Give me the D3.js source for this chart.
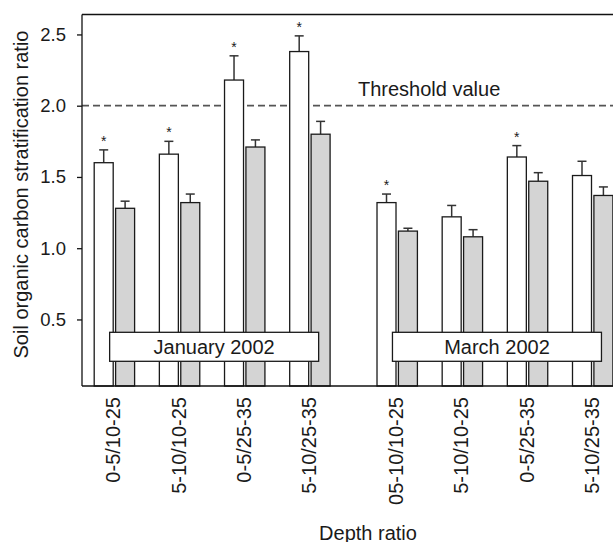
<!DOCTYPE html>
<html>
<head>
<meta charset="utf-8">
<script src="https://cdn.jsdelivr.net/npm/d3@7"></script>
<style>
  html, body { margin: 0; padding: 0; background: #fff; }
  svg { display: block; }
  text { font-family: "Liberation Sans", Arial, sans-serif; fill: #1a1a1a; }
</style>
</head>
<body>
<svg id="chart" width="613" height="542"></svg>
<script>
// ---- data ----
const depthRatios = ["0-5/10-25", "5-10/10-25", "0-5/25-35", "5-10/25-35",
                     "05-10/10-25", "5-10/10-25", "0-5/25-35", "5-10/25-35"];
const monthOfRatio = [0, 0, 0, 0, 1, 1, 1, 1];
const months = ["January 2002", "March 2002"];
const whiteValues = [1.60, 1.66, 2.18, 2.38, 1.32, 1.22, 1.64, 1.51];
const whiteErrors = [0.09, 0.09, 0.17, 0.11, 0.06, 0.08, 0.08, 0.10];
const greyValues  = [1.28, 1.32, 1.71, 1.80, 1.12, 1.08, 1.47, 1.37];
const greyErrors  = [0.05, 0.06, 0.05, 0.09, 0.02, 0.05, 0.06, 0.06];
const significant = [true, true, true, true, true, false, true, false];
const yTicks = [0.5, 1.0, 1.5, 2.0, 2.5];
const thresholdValue = 2.0;
const thresholdLabel = "Threshold value";
const yTitle = "Soil organic carbon stratification ratio";
const xTitle = "Depth ratio";

// ---- layout ----
const plotLeft = 82, plotTop = 14.5, plotBottom = 386, plotRight = 640;
const monthGap = 0.34;   // extra slot space between months
const barW = 19;

const svg = d3.select("#chart");

const slot = (i) => i + monthOfRatio[i] * monthGap;
const x = d3.scaleLinear().domain([0, 7 + monthGap]).range([114.4, 592.7]);
const y = d3.scaleLinear().domain([0.033, 2.64]).range([plotBottom, plotTop]);

// frame top line
svg.append("line")
  .attr("x1", plotLeft).attr("x2", plotRight)
  .attr("y1", plotTop).attr("y2", plotTop)
  .attr("stroke", "#111").attr("stroke-width", 1.3);

// threshold dashed line
svg.append("line")
  .attr("x1", plotLeft).attr("x2", plotRight)
  .attr("y1", y(thresholdValue)).attr("y2", y(thresholdValue))
  .attr("stroke", "#555").attr("stroke-width", 1.8)
  .attr("stroke-dasharray", "7,4");

svg.append("text")
  .attr("x", 358).attr("y", y(thresholdValue) - 10)
  .attr("font-size", 20)
  .text(thresholdLabel);

const idx = d3.range(depthRatios.length);

// error bars (drawn before bars so bars cover line base)
function errBars(values, errors, offset) {
  const g = svg.append("g").attr("stroke", "#333").attr("stroke-width", 1.5);
  g.selectAll("line.v").data(idx).join("line").attr("class", "v")
    .attr("x1", i => x(slot(i)) + offset).attr("x2", i => x(slot(i)) + offset)
    .attr("y1", i => y(values[i])).attr("y2", i => y(values[i] + errors[i]));
  g.selectAll("line.c").data(idx).join("line").attr("class", "c")
    .attr("x1", i => x(slot(i)) + offset - 4.5).attr("x2", i => x(slot(i)) + offset + 4.5)
    .attr("y1", i => y(values[i] + errors[i])).attr("y2", i => y(values[i] + errors[i]));
}
errBars(whiteValues, whiteErrors, -10.7);
errBars(greyValues, greyErrors, 10.7);

// bars
svg.append("g").selectAll("rect").data(idx).join("rect")
  .attr("x", i => x(slot(i)) - 20.2)
  .attr("width", barW)
  .attr("y", i => y(whiteValues[i]))
  .attr("height", i => plotBottom - y(whiteValues[i]))
  .attr("fill", "#fff").attr("stroke", "#1a1a1a").attr("stroke-width", 1.3);

svg.append("g").selectAll("rect").data(idx).join("rect")
  .attr("x", i => x(slot(i)) + 1.2)
  .attr("width", barW)
  .attr("y", i => y(greyValues[i]))
  .attr("height", i => plotBottom - y(greyValues[i]))
  .attr("fill", "#d4d4d4").attr("stroke", "#1a1a1a").attr("stroke-width", 1.3);

// significance stars
svg.append("g").selectAll("text").data(idx.filter(i => significant[i])).join("text")
  .attr("x", i => x(slot(i)) - 10.7)
  .attr("y", i => y(whiteValues[i] + whiteErrors[i]) - 4)
  .attr("text-anchor", "middle")
  .attr("font-size", 14)
  .text("*");

// month label boxes
months.forEach((m, k) => {
  const members = idx.filter(i => monthOfRatio[i] === k);
  const cx = (x(slot(d3.min(members))) + x(slot(d3.max(members)))) / 2 + 2;
  svg.append("rect")
    .attr("x", cx - 104.5).attr("width", 209)
    .attr("y", 332.3).attr("height", 29)
    .attr("fill", "#fff").attr("stroke", "#1a1a1a").attr("stroke-width", 1.3);
  svg.append("text")
    .attr("x", cx).attr("y", 354)
    .attr("text-anchor", "middle").attr("font-size", 20)
    .text(m);
});

// y axis
const yAxis = d3.axisLeft(y).tickValues(yTicks).tickSize(5).tickPadding(11)
  .tickFormat(d3.format(".1f"));
const yg = svg.append("g").attr("transform", `translate(${plotLeft},0)`).call(yAxis);
yg.select(".domain").remove();
yg.selectAll(".tick line").attr("stroke", "#111").attr("stroke-width", 1.3);
yg.selectAll(".tick text").attr("font-size", 18.5)
  .attr("font-family", "Liberation Sans, Arial, sans-serif").attr("fill", "#1a1a1a");

// axis lines
svg.append("line")
  .attr("x1", plotLeft).attr("x2", plotLeft)
  .attr("y1", plotTop).attr("y2", plotBottom)
  .attr("stroke", "#111").attr("stroke-width", 1.3);
svg.append("line")
  .attr("x1", plotLeft).attr("x2", plotRight)
  .attr("y1", plotBottom).attr("y2", plotBottom)
  .attr("stroke", "#111").attr("stroke-width", 1.3);

// x tick labels (rotated)
svg.append("g").selectAll("text").data(idx).join("text")
  .attr("transform", i => `translate(${x(slot(i)) - 1},397) rotate(-90)`)
  .attr("text-anchor", "end")
  .attr("dy", "0.35em")
  .attr("font-size", 20)
  .text(i => depthRatios[i]);

// axis titles
svg.append("text")
  .attr("transform", `translate(27.5,${194.5}) rotate(-90)`)
  .attr("text-anchor", "middle").attr("font-size", 20)
  .text(yTitle);
svg.append("text")
  .attr("x", 368).attr("y", 539.5)
  .attr("text-anchor", "middle").attr("font-size", 20)
  .text(xTitle);
</script>
</body>
</html>
